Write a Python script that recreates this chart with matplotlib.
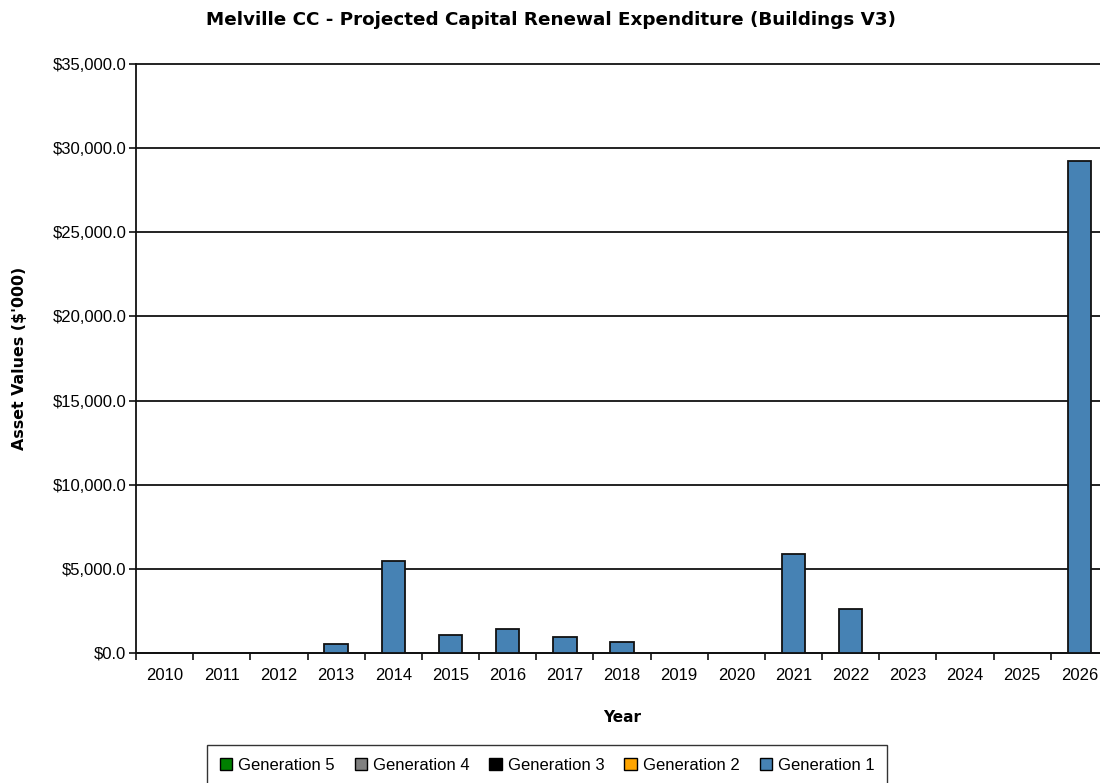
import matplotlib.pyplot as plt
from matplotlib.patches import Patch
from matplotlib.ticker import FuncFormatter, MultipleLocator

plt.rcParams['font.family'] = ['Liberation Sans', 'DejaVu Sans']

years = [str(y) for y in range(2010, 2027)]
gen1 = [0, 0, 0, 560, 5480, 1070, 1440, 950, 670, 0, 0, 5880, 2600, 0, 0, 0, 29250]
legend_names = ['Generation 5', 'Generation 4', 'Generation 3', 'Generation 2', 'Generation 1']
legend_colors = ['#008000', '#808080', '#000000', '#FFA500', '#4682B4']

fig = plt.figure(figsize=(11, 7.83), dpi=100)
ax = fig.add_axes([136 / 1100, 1 - 653 / 783, 972 / 1100, (653 - 64) / 783])

x = list(range(len(years)))
ax.bar(x, gen1, width=0.41, color='#4682B4', edgecolor='#111111', linewidth=1.3, zorder=3)

ax.set_xlim(-0.5, len(years) - 0.5)
ax.set_ylim(0, 35000)
ax.yaxis.set_major_locator(MultipleLocator(5000))
ax.yaxis.set_major_formatter(FuncFormatter(lambda v, p: '${:,.1f}'.format(v)))
ax.grid(axis='y', color='#111111', linewidth=1.3, zorder=1)
for gl in ax.get_ygridlines():
    gl.set_clip_on(False)

# year labels centred under each bar, tick marks on the category boundaries
ax.set_xticks(x)
ax.set_xticklabels(years)
ax.tick_params(axis='x', which='major', length=0, labelsize=12, pad=11)
ax.set_xticks([i + 0.5 for i in range(-1, len(years))], minor=True)
ax.tick_params(axis='x', which='minor', length=5, width=1.2, direction='out', color='#111111')
ax.tick_params(axis='y', length=5, width=1.2, labelsize=12, pad=2, color='#111111')

for side in ['top', 'right']:
    ax.spines[side].set_visible(False)
for side in ['left', 'bottom']:
    ax.spines[side].set_linewidth(1.3)
    ax.spines[side].set_color('#111111')

ax.set_xlabel('Year', fontsize=11, fontweight='bold', labelpad=19, family='DejaVu Sans')
ax.set_ylabel("Asset Values ($'000)", fontsize=11.4, fontweight='bold', labelpad=18, family='DejaVu Sans')
fig.text(551 / 1100, 1 - 20 / 783, 'Melville CC - Projected Capital Renewal Expenditure (Buildings V3)',
         ha='center', va='center', fontsize=13.2, fontweight='bold', family='DejaVu Sans Condensed')

handles = [Patch(facecolor=c, edgecolor='black', linewidth=1) for c in legend_colors]
leg = fig.legend(handles, legend_names, loc='upper center', bbox_to_anchor=(547 / 1100, 1 - 745 / 783),
                 ncol=5, fontsize=12, frameon=True, fancybox=False, handlelength=0.75, handleheight=0.75,
                 handletextpad=0.35, columnspacing=1.2, borderpad=0.75, borderaxespad=0)
leg.get_frame().set_edgecolor('black')
leg.get_frame().set_linewidth(1)

fig.savefig('out.png', dpi=100)
